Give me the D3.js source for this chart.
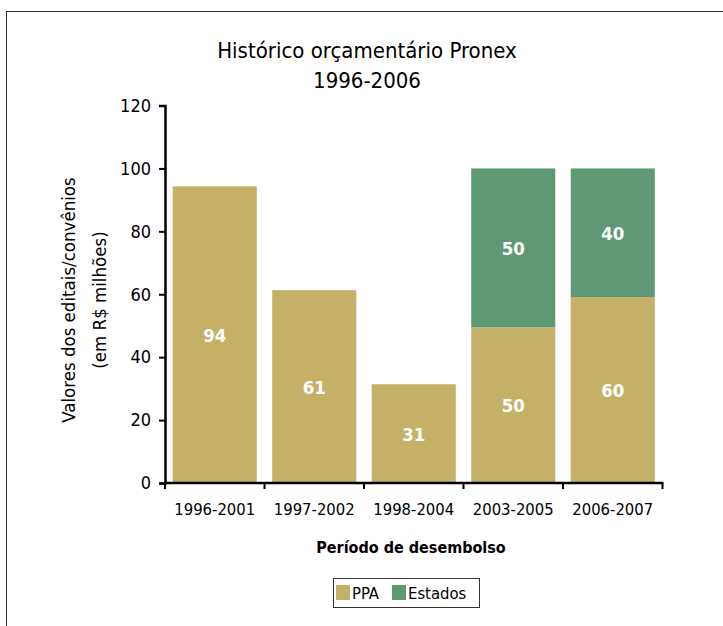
<!DOCTYPE html>
<html>
<head>
<meta charset="utf-8">
<script src="https://cdn.jsdelivr.net/npm/d3@7"></script>
<style>
  body { margin: 0; background: #fff; }
  text { font-family: "DejaVu Sans Condensed", "DejaVu Sans", sans-serif; }
</style>
</head>
<body>
<svg width="723" height="626"></svg>
<script>
// data
const periods = ["1996-2001", "1997-2002", "1998-2004", "2003-2005", "2006-2007"];
const ppa = [94.3, 61.3, 31.4, 49.5, 59.1];
const estados = [0, 0, 0, 50.5, 40.9];
const ppaLabels = ["94", "61", "31", "50", "60"];
const estadosLabels = ["", "", "", "50", "40"];
const seriesNames = ["PPA", "Estados"];
const colors = ["#c5b068", "#5f9874"];
const yTicks = [0, 20, 40, 60, 80, 100, 120];

const svg = d3.select("svg");

// outer frame (runs off the right and bottom edge)
svg.append("rect")
   .attr("x", 6.5).attr("y", 11.5)
   .attr("width", 800).attr("height", 700)
   .attr("fill", "none").attr("stroke", "#333").attr("stroke-width", 1);

const x = d3.scaleBand()
            .domain(periods)
            .range([165, 662.5])
            .paddingInner(0.155)
            .paddingOuter(0.0775);

const y = d3.scaleLinear()
            .domain([0, 120])
            .range([483, 105.5]);

// stack the two series
const rows = periods.map((p, i) => ({ period: p, PPA: ppa[i], Estados: estados[i], i: i }));
const stacked = d3.stack().keys(seriesNames)(rows);

const labelSets = [ppaLabels, estadosLabels];

stacked.forEach((layer, k) => {
    svg.append("g")
       .selectAll("rect")
       .data(layer.filter(d => d[1] - d[0] > 0))
       .enter()
       .append("rect")
       .attr("x", d => x(d.data.period))
       .attr("width", x.bandwidth())
       .attr("y", d => y(d[1]))
       .attr("height", d => y(d[0]) - y(d[1]))
       .attr("fill", colors[k]);

    svg.append("g")
       .selectAll("text")
       .data(layer.filter(d => labelSets[k][d.data.i] !== ""))
       .enter()
       .append("text")
       .attr("x", d => x(d.data.period) + x.bandwidth() / 2)
       .attr("y", d => (y(d[0]) + y(d[1])) / 2 + 7)
       .attr("text-anchor", "middle")
       .attr("fill", "#fff")
       .attr("font-weight", "bold")
       .attr("font-size", 18.5)
       .text(d => labelSets[k][d.data.i]);
});

// y axis
const yAxis = svg.append("g")
   .attr("transform", "translate(165,0)")
   .call(d3.axisLeft(y).tickValues(yTicks).tickSize(6).tickPadding(8));
yAxis.select(".domain").attr("stroke", "#000").attr("stroke-width", 2.5);
yAxis.selectAll(".tick line").attr("stroke", "#000").attr("stroke-width", 2);
yAxis.selectAll(".tick text").attr("font-size", 18).attr("fill", "#000")
     .attr("font-family", "'DejaVu Sans Condensed', sans-serif");

// x axis (ticks at band boundaries)
const xAxis = svg.append("g").attr("transform", "translate(0,483)");
xAxis.append("line")
     .attr("x1", 164).attr("x2", 663.5)
     .attr("y1", 0).attr("y2", 0)
     .attr("stroke", "#000").attr("stroke-width", 2.5);
const bounds = periods.map(p => x(p) - x.step() * x.paddingInner() / 2);
bounds.push(x(periods[periods.length - 1]) + x.bandwidth() + x.step() * x.paddingInner() / 2);
xAxis.selectAll("line.tk")
     .data(bounds)
     .enter()
     .append("line")
     .attr("class", "tk")
     .attr("x1", d => d).attr("x2", d => d)
     .attr("y1", 0).attr("y2", 6)
     .attr("stroke", "#000").attr("stroke-width", 2);
xAxis.selectAll("text")
     .data(periods)
     .enter()
     .append("text")
     .attr("x", d => x(d) + x.bandwidth() / 2)
     .attr("y", 32)
     .attr("text-anchor", "middle")
     .attr("font-size", 16.5)
     .text(d => d);

// titles
svg.append("text")
   .attr("x", 367).attr("y", 58)
   .attr("text-anchor", "middle")
   .attr("font-size", 22)
   .text("Histórico orçamentário Pronex");
svg.append("text")
   .attr("x", 367).attr("y", 88)
   .attr("text-anchor", "middle")
   .attr("font-size", 22)
   .text("1996-2006");

svg.append("text")
   .attr("x", 411).attr("y", 553)
   .attr("text-anchor", "middle")
   .attr("font-size", 16)
   .attr("font-weight", "bold")
   .text("Período de desembolso");

// y axis title, two lines
const yTitle = svg.append("text")
   .attr("transform", "translate(75,300) rotate(-90)")
   .attr("text-anchor", "middle")
   .attr("font-size", 18.5);
yTitle.append("tspan").attr("x", 0).attr("y", 0).text("Valores dos editais/convênios");
yTitle.append("tspan").attr("x", 0).attr("y", 31).text("(em R$ milhões)");

// legend
const legend = svg.append("g");
legend.append("rect")
      .attr("x", 333.5).attr("y", 578.5)
      .attr("width", 146).attr("height", 29)
      .attr("fill", "#fff").attr("stroke", "#333").attr("stroke-width", 1);
const legendX = [336, 392];
seriesNames.forEach((name, k) => {
    legend.append("rect")
          .attr("x", legendX[k]).attr("y", 585)
          .attr("width", 14).attr("height", 15)
          .attr("fill", colors[k]);
    legend.append("text")
          .attr("x", legendX[k] + 16).attr("y", 599)
          .attr("font-size", 16.5)
          .text(name);
});
</script>
</body>
</html>
